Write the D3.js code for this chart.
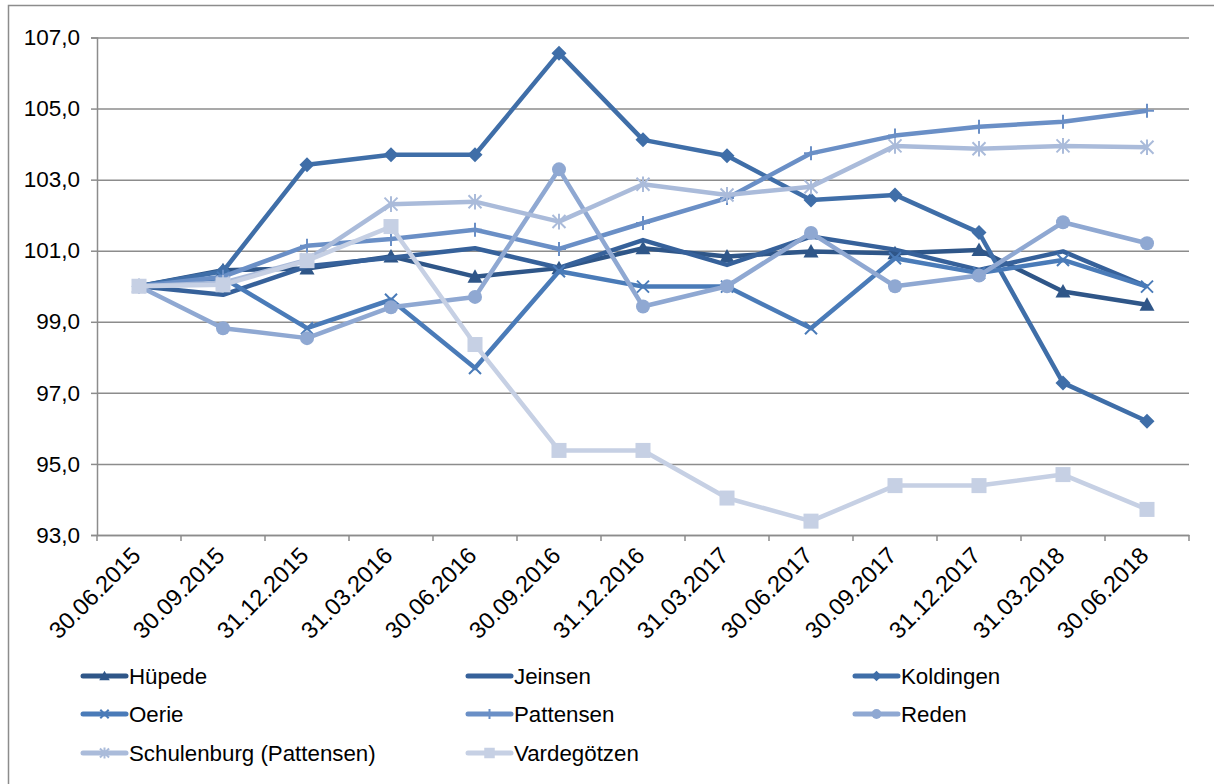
<!DOCTYPE html>
<html><head><meta charset="utf-8">
<script src="https://cdn.jsdelivr.net/npm/d3@7"></script>
<style>
html,body{margin:0;padding:0;background:#fff;}
text{font-family:"Liberation Sans",Arial,sans-serif;fill:#000;}
</style></head>
<body><svg id="c" width="1214" height="784"></svg>
<script>
const categories = ["30.06.2015","30.09.2015","31.12.2015","31.03.2016","30.06.2016","30.09.2016","31.12.2016","31.03.2017","30.06.2017","30.09.2017","31.12.2017","31.03.2018","30.06.2018"];
const yTicks = [93,95,97,99,101,103,105,107];
const seriesNames = ["Hüpede","Jeinsen","Koldingen","Oerie","Pattensen","Reden","Schulenburg (Pattensen)","Vardegötzen"];
const huepede    = [100,100.45,100.5,100.84,100.27,100.51,101.07,100.84,100.98,100.93,101.02,99.85,99.48];
const jeinsen    = [100,99.76,100.56,100.8,101.07,100.52,101.3,100.6,101.4,101.03,100.46,100.98,99.99];
const koldingen  = [100,100.42,103.42,103.7,103.7,106.56,104.12,103.67,102.43,102.57,101.51,97.28,96.2];
const oerie      = [100,100.24,98.82,99.62,97.7,100.42,99.99,99.99,98.82,100.79,100.37,100.74,99.99];
const pattensen  = [100,100.27,101.14,101.33,101.59,101.05,101.78,102.48,103.74,104.24,104.49,104.63,104.94];
const reden      = [100,98.82,98.54,99.41,99.7,103.29,99.43,100.0,101.5,100.0,100.3,101.8,101.21];
const schulenburg= [100,100.1,100.74,102.31,102.38,101.82,102.87,102.57,102.8,103.95,103.87,103.95,103.91];
const vardegoetzen=[100,100.04,100.72,101.68,98.36,95.38,95.38,94.04,93.39,94.39,94.39,94.7,93.72];
const seriesValues = [huepede,jeinsen,koldingen,oerie,pattensen,reden,schulenburg,vardegoetzen];
const colors = ["#2f5688","#36619a","#3f6ea8","#4a7bb8","#6a8fc6","#8fa8d2","#aabbda","#c6d0e4"];
const markers = ["triangle","none","diamond","x","plus","circle","asterisk","square"];

const svg = d3.select("#c");
// outer frame
svg.append("rect").attr("x",8.5).attr("y",5.5).attr("width",1300).attr("height",900)
  .attr("fill","none").attr("stroke","#8c8c8c").attr("stroke-width",1.5);

const L=97, R=1189, T=37.5, B=535;
const x = d3.scaleBand().domain(categories).range([L,R]);
const y = d3.scaleLinear().domain([93,107]).range([B,T]);
const cx = c => x(c)+x.bandwidth()/2;

// gridlines
const grid = svg.append("g").attr("transform",`translate(${L},0)`)
  .call(d3.axisLeft(y).tickValues(yTicks).tickSize(-(R-L)).tickFormat(""));
grid.select(".domain").remove();
grid.selectAll("line").attr("stroke","#8c8c8c").attr("stroke-width",1.5);

// y axis
const ya = svg.append("g").attr("transform",`translate(${L},0)`)
  .call(d3.axisLeft(y).tickValues(yTicks).tickSize(6).tickPadding(11)
    .tickFormat(d=>d3.format(".1f")(d).replace(".",",")));
ya.select(".domain").attr("stroke","#8c8c8c").attr("stroke-width",1.5);
ya.selectAll("line").attr("stroke","#8c8c8c").attr("stroke-width",1.5);
ya.selectAll("text").style("font-size","22.5px").style("font-family","Liberation Sans, Arial, sans-serif").attr("fill","#000");

// x axis
const xa = svg.append("g").attr("transform",`translate(0,${B})`)
  .call(d3.axisBottom(x).tickSize(0).tickPadding(0));
xa.select(".domain").attr("stroke","#8c8c8c").attr("stroke-width",1.5);
xa.selectAll(".tick text")
  .style("font-size","23.5px").style("font-family","Liberation Sans, Arial, sans-serif").attr("fill","#000")
  .attr("text-anchor","end").attr("y",0).attr("dy",0)
  .attr("transform","translate(3,22) rotate(-45)");
const edges = categories.map(c=>x(c)).concat([R]);
svg.append("g").selectAll("line").data(edges).join("line")
  .attr("x1",d=>d).attr("x2",d=>d).attr("y1",B).attr("y2",B+6)
  .attr("stroke","#8c8c8c").attr("stroke-width",1.5);

function drawMarker(g, type, px, py, color, s){
  s = s||1;
  if(type==="triangle"){
    const h=7.5*s; g.append("path").attr("d",`M${px},${py-h}L${px+h},${py+h*0.8}L${px-h},${py+h*0.8}Z`).attr("fill",color);
  } else if(type==="diamond"){
    const h=7.5*s; g.append("path").attr("d",`M${px},${py-h}L${px+h},${py}L${px},${py+h}L${px-h},${py}Z`).attr("fill",color);
  } else if(type==="circle"){
    g.append("circle").attr("cx",px).attr("cy",py).attr("r",7*s).attr("fill",color);
  } else if(type==="square"){
    const h=7.5*s; g.append("rect").attr("x",px-h).attr("y",py-h).attr("width",2*h).attr("height",2*h).attr("fill",color);
  } else if(type==="x"){
    const h=6*s; g.append("path").attr("d",`M${px-h},${py-h}L${px+h},${py+h}M${px-h},${py+h}L${px+h},${py-h}`)
      .attr("stroke",color).attr("stroke-width",2).attr("fill","none");
  } else if(type==="plus"){
    const h=7*s; g.append("path").attr("d",`M${px},${py-h}L${px},${py+h}M${px-h},${py}L${px+h},${py}`)
      .attr("stroke",color).attr("stroke-width",2).attr("fill","none");
  } else if(type==="asterisk"){
    const h=6.5*s; g.append("path").attr("d",`M${px-h},${py-h}L${px+h},${py+h}M${px-h},${py+h}L${px+h},${py-h}M${px},${py-h*1.2}L${px},${py+h*1.2}`)
      .attr("stroke",color).attr("stroke-width",2).attr("fill","none");
  }
}

const line = d3.line().x((d,i)=>cx(categories[i])).y(d=>y(d));
const plot = svg.append("g");
seriesValues.forEach((vals,si)=>{
  const g = plot.append("g");
  g.append("path").datum(vals).attr("d",line).attr("fill","none")
    .attr("stroke",colors[si]).attr("stroke-width",4.5).attr("stroke-linejoin","round");
  vals.forEach((v,i)=>drawMarker(g, markers[si], cx(categories[i]), y(v), colors[si], 1));
});

// legend
const legX=[83,468,855], legY=[676,714,753];
const leg = svg.append("g");
seriesNames.forEach((n,i)=>{
  const lx=legX[i%3], ly=legY[Math.floor(i/3)];
  leg.append("line").attr("x1",lx).attr("x2",lx+43).attr("y1",ly).attr("y2",ly)
    .attr("stroke",colors[i]).attr("stroke-width",5).attr("stroke-linecap","round");
  drawMarker(leg, markers[i], lx+21.5, ly, colors[i], 0.7);
  leg.append("text").attr("x",lx+46).attr("y",ly).attr("dy","0.35em")
    .style("font-size","22.3px").text(n);
});
</script></body></html>
